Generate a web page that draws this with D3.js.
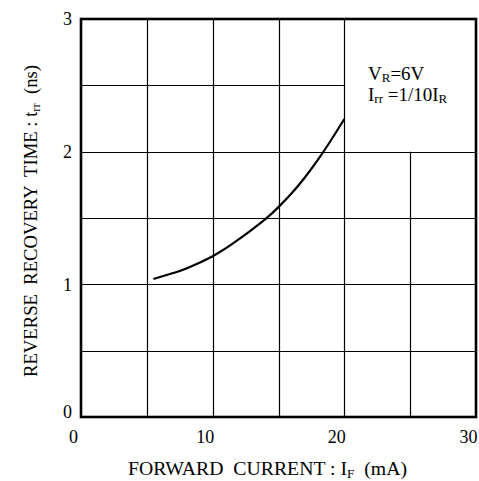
<!DOCTYPE html>
<html><head><meta charset="utf-8">
<script src="https://cdn.jsdelivr.net/npm/d3@7"></script>
<style>
html,body{margin:0;padding:0;background:#fff;}
svg text{font-family:"Liberation Serif","Times New Roman",serif;fill:#000;}
</style></head>
<body>
<svg id="c" width="479" height="481"></svg>
<script>
// Data
const currentMA = [5.5, 7, 8, 10, 12, 14, 15, 16, 17, 18, 19, 20];
const trrNs     = [1.04, 1.085, 1.12, 1.212, 1.34, 1.492, 1.582, 1.686, 1.805, 1.94, 2.088, 2.246];
const xTicks = [0, 10, 20, 30];
const yTicks = [0, 1, 2, 3];
const xGrid = [5, 10, 15, 20, 25];
const yGrid = [0.5, 1, 1.5, 2, 2.5];

const svg = d3.select("#c");
const L = 81, R = 476, T = 19, B = 417;
const x = d3.scaleLinear().domain([0, 30]).range([L, R]);
const y = d3.scaleLinear().domain([0, 3]).range([B, T]);
const FONT = '"Liberation Serif","Times New Roman",serif';

// grid
svg.append("g").selectAll("line").data(xGrid).join("line")
  .attr("x1", d => Math.round(x(d)) + 0.5).attr("x2", d => Math.round(x(d)) + 0.5)
  .attr("y1", y(0)).attr("y2", d => d > 20 ? y(2) : y(3))
  .attr("stroke", "#000").attr("stroke-width", 1.2);
svg.append("g").selectAll("line").data(yGrid).join("line")
  .attr("y1", d => Math.round(y(d)) + 0.5).attr("y2", d => Math.round(y(d)) + 0.5)
  .attr("x1", x(0)).attr("x2", d => d > 2 ? x(20) : x(30))
  .attr("stroke", "#000").attr("stroke-width", 1.2);

// frame
svg.append("rect").attr("x", L).attr("y", T).attr("width", R - L).attr("height", B - T)
  .attr("fill", "none").attr("stroke", "#000").attr("stroke-width", 2.6);

// curve
const pts = currentMA.map((v, i) => [v, trrNs[i]]);
svg.append("path").datum(pts)
  .attr("d", d3.line().x(d => x(d[0])).y(d => y(d[1])).curve(d3.curveNatural))
  .attr("fill", "none").attr("stroke", "#000").attr("stroke-width", 2.2);

// x axis labels
const gx = svg.append("g").attr("transform", `translate(-8,${B})`)
  .call(d3.axisBottom(x).tickValues(xTicks).tickFormat(d3.format("d")).tickSize(0).tickPadding(13));
gx.attr("font-family", null).attr("font-size", null);
gx.select(".domain").remove();
gx.selectAll("text").style("font-family", FONT).style("font-size", "18px").attr("fill", "#000");

// y axis labels
const gy = svg.append("g").attr("transform", `translate(${L - 9},0)`)
  .call(d3.axisLeft(y).tickValues(yTicks).tickFormat(d3.format("d")).tickSize(0).tickPadding(0));
gy.attr("font-family", null).attr("font-size", null);
gy.select(".domain").remove();
gy.selectAll("text").style("font-family", FONT).style("font-size", "18px").attr("fill", "#000")
  .attr("dy", d => d === 0 ? "0.05em" : "0.32em");

// axis titles
const xt = svg.append("text").attr("x", 128).attr("y", 475).attr("xml:space", "preserve")
  .style("font-size", "18px").style("white-space", "pre");
xt.append("tspan").text("FORWARD  CURRENT : I");
xt.append("tspan").attr("dy", 3).style("font-size", "12px").text("F");
xt.append("tspan").attr("dy", -3).text("  (mA)");
xt.attr("textLength", 279).attr("lengthAdjust", "spacingAndGlyphs");

const yt = svg.append("text").attr("transform", "translate(37,377) rotate(-90)").attr("xml:space", "preserve")
  .style("font-size", "18px").style("white-space", "pre");
yt.append("tspan").text("REVERSE  RECOVERY  TIME : t");
yt.append("tspan").attr("dy", 3).style("font-size", "12px").text("rr");
yt.append("tspan").attr("dy", -3).text("  (ns)");
yt.attr("textLength", 312).attr("lengthAdjust", "spacingAndGlyphs");

// annotation
const a1 = svg.append("text").attr("x", 368).attr("y", 80).style("font-size", "19px");
a1.append("tspan").text("V");
a1.append("tspan").attr("dy", 2).style("font-size", "13px").text("R");
a1.append("tspan").attr("dy", -2).text("=6V");
const a2 = svg.append("text").attr("x", 368).attr("y", 101).style("font-size", "19px").attr("xml:space", "preserve");
a2.append("tspan").text("I");
a2.append("tspan").attr("dy", 2).style("font-size", "13px").text("rr");
a2.append("tspan").attr("dy", -2).text(" =1/10I");
a2.append("tspan").attr("dy", 2).style("font-size", "13px").text("R");
</script>
</body></html>
